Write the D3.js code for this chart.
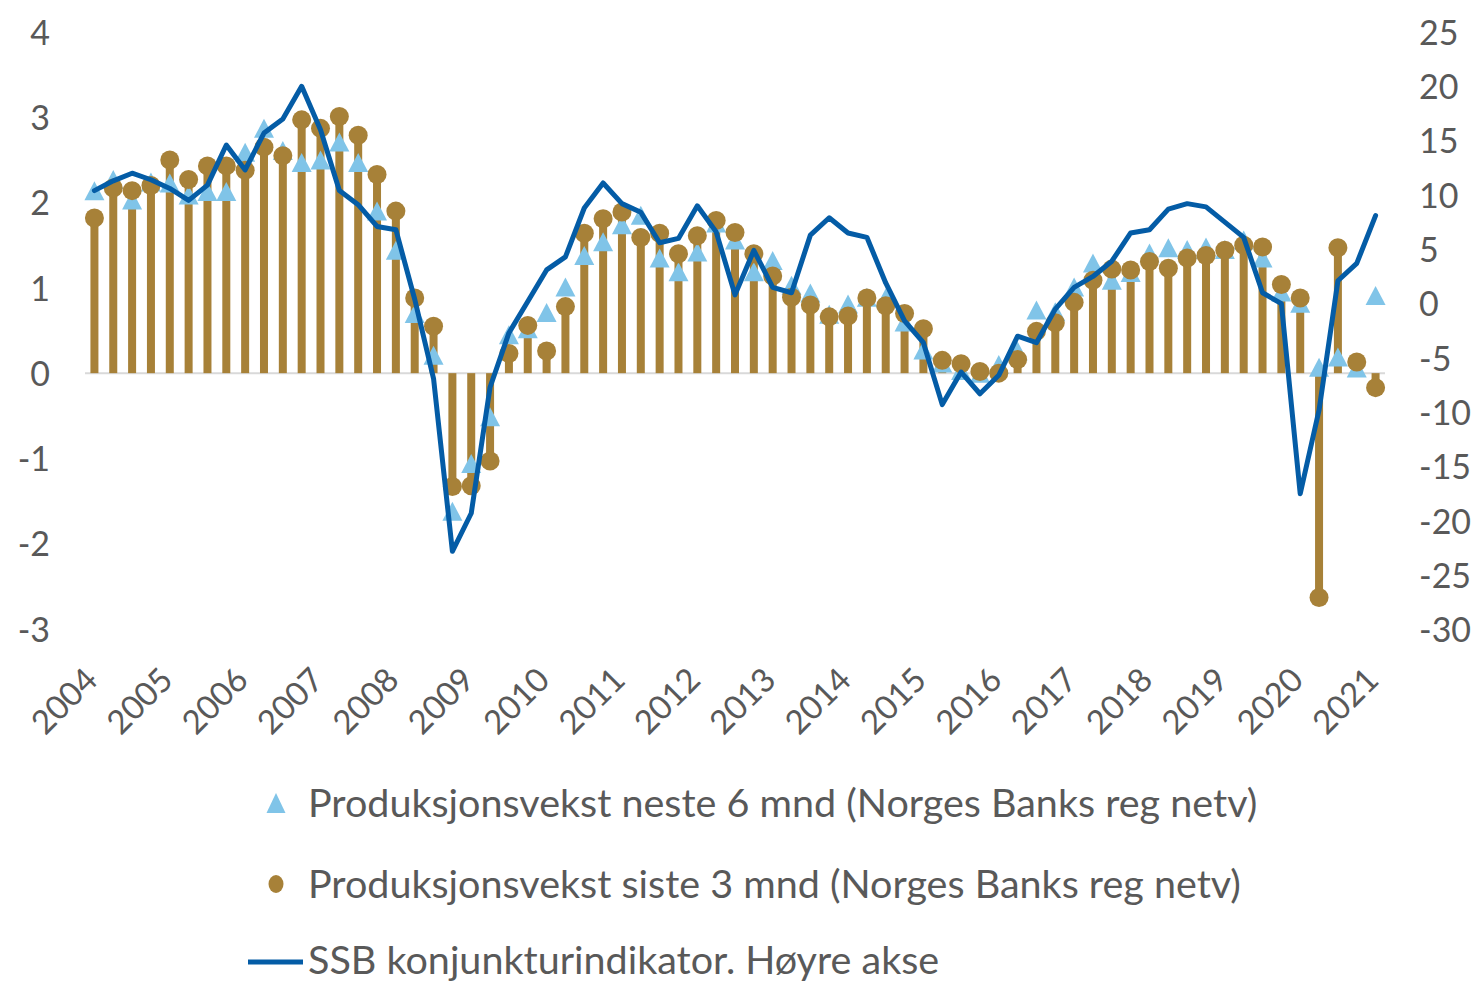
<!DOCTYPE html>
<html>
<head>
<meta charset="utf-8">
<script src="https://cdn.jsdelivr.net/npm/d3@7"></script>
<style>
  html, body { margin: 0; padding: 0; background: #ffffff; }
  svg { display: block; font-family: Lato, "Open Sans", sans-serif; }
</style>
</head>
<body>
<svg id="chart" width="1474" height="982"></svg>
<script>
// Quarterly series, 2004K1 – 2021K1
const years = [2004, 2005, 2006, 2007, 2008, 2009, 2010, 2011, 2012, 2013, 2014, 2015, 2016, 2017, 2018, 2019, 2020, 2021];
const quarters = years.flatMap(y => [1, 2, 3, 4].map(q => `${y}K${q}`)).slice(0, 69);

// Produksjonsvekst neste 6 mnd (Norges Banks regionale nettverk), venstre akse
const neste6 = [
  2.14, 2.27, 2.03, 2.24, 2.23, 2.09, 2.13, 2.13, 2.59, 2.87, 2.61, 2.47, 2.50, 2.71, 2.47, 1.90,
  1.44, 0.70, 0.21, -1.62, -1.06, -0.51, 0.45, 0.52, 0.71, 1.01, 1.38, 1.54, 1.74, 1.85, 1.35, 1.19,
  1.42, 1.76, 1.56, 1.19, 1.32, 1.03, 0.94, 0.69, 0.81, 0.89, 0.88, 0.60, 0.27, 0.12, 0.03, 0.00,
  0.10, 0.26, 0.74, 0.72, 1.01, 1.29, 1.09, 1.18, 1.41, 1.47, 1.45, 1.48, 1.45, 1.56, 1.35, 0.95,
  0.82, 0.07, 0.19, 0.06, 0.91
];

// Produksjonsvekst siste 3 mnd (Norges Banks regionale nettverk), venstre akse
const siste3 = [
  1.82, 2.17, 2.14, 2.20, 2.50, 2.27, 2.43, 2.43, 2.38, 2.65, 2.55, 2.97, 2.87, 3.01, 2.79, 2.33,
  1.90, 0.88, 0.55, -1.33, -1.32, -1.03, 0.23, 0.56, 0.26, 0.78, 1.64, 1.81, 1.89, 1.59, 1.64, 1.40,
  1.61, 1.79, 1.65, 1.40, 1.14, 0.89, 0.80, 0.66, 0.67, 0.88, 0.79, 0.70, 0.52, 0.15, 0.11, 0.02,
  0.00, 0.16, 0.49, 0.59, 0.83, 1.09, 1.22, 1.21, 1.31, 1.23, 1.35, 1.38, 1.44, 1.50, 1.48, 1.04,
  0.88, -2.63, 1.47, 0.13, -0.17
];

// SSB konjunkturindikator, høyre akse
const ssb = [
  10.4, 11.3, 12.0, 11.4, 10.6, 9.5, 10.9, 14.6, 12.3, 15.7, 17.0, 20.0, 16.0, 10.4, 9.1, 7.1,
  6.8, 0.4, -6.9, -22.8, -19.3, -7.7, -2.7, 0.2, 3.1, 4.3, 8.8, 11.1, 9.2, 8.4, 5.6, 6.0,
  9.0, 6.6, 0.8, 4.9, 1.5, 1.0, 6.3, 7.9, 6.5, 6.1, 1.9, -1.6, -3.6, -9.3, -6.3, -8.3,
  -6.6, -3.0, -3.6, -0.5, 1.5, 2.5, 3.9, 6.5, 6.8, 8.7, 9.2, 8.9, 7.5, 6.1, 1.0, 0.0,
  -17.5, -9.8, 2.1, 3.7, 8.1
];

const leftTicks = [-3, -2, -1, 0, 1, 2, 3, 4];
const rightTicks = [-30, -25, -20, -15, -10, -5, 0, 5, 10, 15, 20, 25];

const legendLabels = [
  "Produksjonsvekst neste 6 mnd (Norges Banks reg netv)",
  "Produksjonsvekst siste 3 mnd (Norges Banks reg netv)",
  "SSB konjunkturindikator. Høyre akse"
];

const colors = { tri: "#80C4E8", gold: "#A78138", line: "#045CA6", text: "#595959", zero: "#D9D9D9" };

const svg = d3.select("#chart");

const x = d3.scaleBand().domain(quarters).range([85, 1385]);
const cx = q => x(q) + x.bandwidth() / 2;
const yL = d3.scaleLinear().domain([-3, 4]).range([629, 32]);
const yR = d3.scaleLinear().domain([-30, 25]).range([629.5, 32]);

// Left axis
const axL = svg.append("g").attr("transform", "translate(50,0)")
  .call(d3.axisLeft(yL).tickValues(leftTicks).tickSize(0).tickPadding(0).tickFormat(d => String(d)));
axL.select(".domain").remove();
axL.selectAll("text").attr("fill", colors.text).style("font-size", "34px")
  .style("font-family", "Lato, 'Open Sans', sans-serif").attr("dy", "0.36em");

// Right axis
const axR = svg.append("g").attr("transform", "translate(1419,0)")
  .call(d3.axisRight(yR).tickValues(rightTicks).tickSize(0).tickPadding(0).tickFormat(d => String(d)));
axR.select(".domain").remove();
axR.selectAll("text").attr("fill", colors.text).style("font-size", "34px")
  .style("font-family", "Lato, 'Open Sans', sans-serif").attr("dy", "0.36em");

// Category axis: year label on each first quarter
const yearTicks = quarters.filter((q, i) => i % 4 === 0);
const axB = svg.append("g").attr("transform", "translate(0,682)")
  .call(d3.axisBottom(x).tickValues(yearTicks).tickSize(0).tickFormat(q => q.slice(0, 4)));
axB.select(".domain").remove();
axB.selectAll("text")
  .attr("x", 0).attr("y", 0).attr("dy", 0)
  .attr("transform", "translate(5,0) rotate(-45)")
  .attr("text-anchor", "end")
  .attr("fill", colors.text).style("font-size", "33px")
  .style("font-family", "Lato, 'Open Sans', sans-serif");

// Zero line
svg.append("line")
  .attr("x1", 85).attr("x2", 1385)
  .attr("y1", yL(0)).attr("y2", yL(0))
  .attr("stroke", colors.zero).attr("stroke-width", 2);

// Stems for siste 3 mnd
svg.append("g").selectAll("rect").data(quarters).join("rect")
  .attr("x", q => cx(q) - 4)
  .attr("width", 8)
  .attr("y", (q, i) => Math.min(yL(siste3[i]), yL(0)))
  .attr("height", (q, i) => Math.abs(yL(siste3[i]) - yL(0)))
  .attr("fill", colors.gold);

// Triangles for neste 6 mnd
const triPath = (px, py, w, h) => `M${px},${py - h / 2}L${px + w / 2},${py + h / 2}L${px - w / 2},${py + h / 2}Z`;
svg.append("g").selectAll("path").data(quarters).join("path")
  .attr("d", (q, i) => triPath(cx(q), yL(neste6[i]), 20, 19))
  .attr("fill", colors.tri);

// Circles for siste 3 mnd
svg.append("g").selectAll("circle").data(quarters).join("circle")
  .attr("cx", q => cx(q))
  .attr("cy", (q, i) => yL(siste3[i]))
  .attr("r", 9.5)
  .attr("fill", colors.gold);

// SSB line on the right axis
const line = d3.line().x((d, i) => cx(quarters[i])).y(d => yR(d));
svg.append("path").datum(ssb)
  .attr("d", line)
  .attr("fill", "none")
  .attr("stroke", colors.line)
  .attr("stroke-width", 5)
  .attr("stroke-linejoin", "round")
  .attr("stroke-linecap", "round");

// Legend
const lg = svg.append("g").style("font-size", "39.5px").attr("fill", colors.text);
const rows = [803, 884, 960];
lg.append("path").attr("d", triPath(276, rows[0], 19, 20)).attr("fill", colors.tri);
lg.append("ellipse").attr("cx", 276).attr("cy", rows[1]).attr("rx", 7.5).attr("ry", 9).attr("fill", colors.gold);
lg.append("line").attr("x1", 248).attr("x2", 303).attr("y1", rows[2] + 2).attr("y2", rows[2] + 2)
  .attr("stroke", colors.line).attr("stroke-width", 5);
legendLabels.forEach((t, i) => {
  lg.append("text").attr("x", 308).attr("y", rows[i]).attr("dy", "0.36em").text(t);
});
</script>
</body>
</html>
